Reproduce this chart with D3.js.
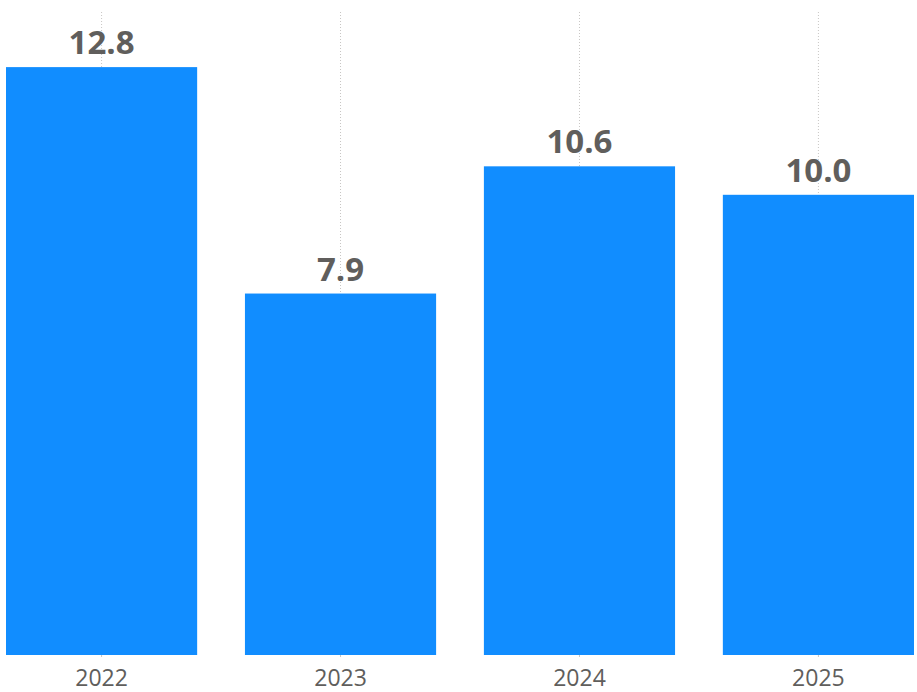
<!DOCTYPE html>
<html lang="en">
<head>
    <meta charset="UTF-8">
    <title>Bar chart</title>
    <script src="https://d3js.org/d3.v7.min.js"></script>
    <style>
        body { margin: 0; background: #fff; }
        .bar { fill: #118DFF; }
        .grid line { stroke: #C8C6C4; stroke-dasharray: 1 2; }
        .value { font-family: "Open Sans", sans-serif; font-weight: 700; font-size: 33px; fill: #605E5C; }
        .xaxis text { font-family: "Open Sans", sans-serif; font-size: 23px; fill: #605E5C; }
        .xaxis line { stroke: #C8C6C4; }
    </style>
</head>
<body>
    <svg width="917" height="692"></svg>
    <script>
        const years = ["2022", "2023", "2024", "2025"];
        // values; labels show one decimal
        const values = [12.8, 7.87, 10.64, 10.02];

        const svg = d3.select("svg");

        const x = d3.scaleBand()
                    .domain(years)
                    .range([6, 914])
                    .paddingInner(0.2)
                    .paddingOuter(0);

        const y = d3.scaleLinear()
                    .domain([0, 14])
                    .range([655, 12]);

        // dotted vertical gridlines at category centres
        svg.append("g")
           .attr("class", "grid")
           .selectAll("line")
           .data(years)
           .enter().append("line")
           .attr("x1", d => x(d) + x.bandwidth() / 2)
           .attr("x2", d => x(d) + x.bandwidth() / 2)
           .attr("y1", y(14))
           .attr("y2", y(0));

        svg.selectAll(".bar")
           .data(values)
           .enter().append("rect")
           .attr("class", "bar")
           .attr("x", (d, i) => x(years[i]))
           .attr("y", d => y(d))
           .attr("width", x.bandwidth())
           .attr("height", d => y(0) - y(d));

        svg.selectAll(".value")
           .data(values)
           .enter().append("text")
           .attr("class", "value")
           .attr("x", (d, i) => x(years[i]) + x.bandwidth() / 2)
           .attr("y", d => y(d) - 13)
           .attr("text-anchor", "middle")
           .text(d => d.toFixed(1));

        const xAxis = svg.append("g")
           .attr("class", "xaxis")
           .attr("transform", `translate(0, ${y(0)})`)
           .call(d3.axisBottom(x).tickSize(2).tickPadding(8));
        xAxis.select(".domain").remove();
        xAxis.selectAll("text").attr("dy", "0.9em");
    </script>
</body>
</html>
